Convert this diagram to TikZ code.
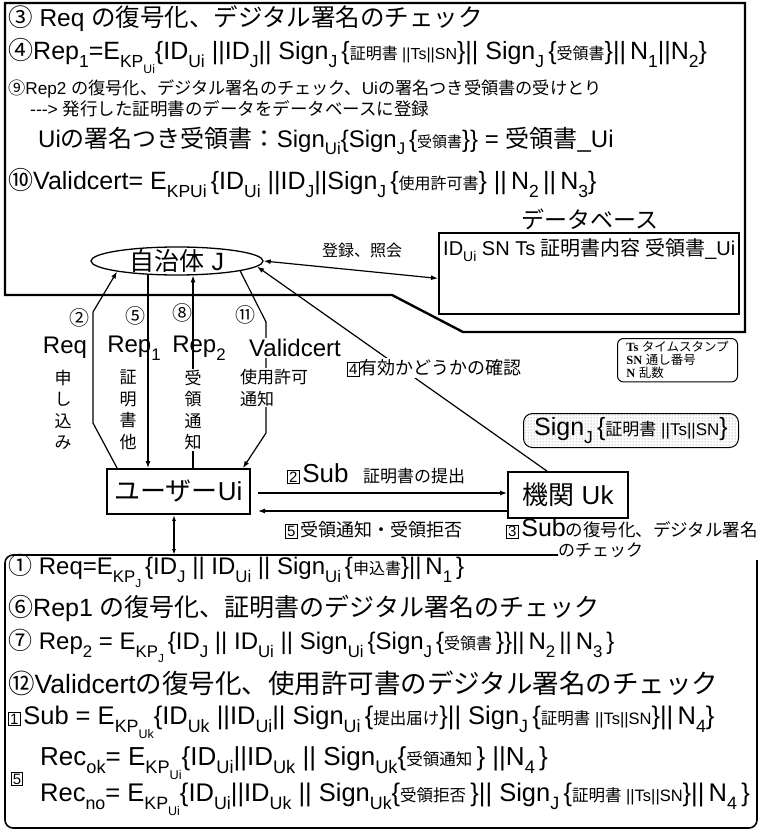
\documentclass[tikz,border=0pt]{standalone}
\usepackage{fontspec}
\usepackage{graphicx}
\setmainfont{Liberation Sans}
\newfontfamily\jpf{Noto Sans CJK JP}
\newfontfamily\serfb{Liberation Serif}
\usetikzlibrary{patterns,arrows.meta,shapes.geometric}
\newcommand\jp[1]{{\jpf #1}}
\newcommand\sbs[1]{\raisebox{-0.32em}{\scalebox{0.7}{#1}}}
\newcommand\fs[1]{\fontsize{#1}{#1}\selectfont}
\newcommand\bx[1]{{\setlength\fboxsep{1pt}\setlength\fboxrule{1pt}\fbox{\fs{15}#1}}}
\begin{document}
\begin{tikzpicture}[x=1pt,y=-1pt,
  txt/.style={anchor=west,inner sep=0pt},
  lbl/.style={inner sep=0pt},
  wbg/.style={fill=white,inner sep=1pt},
  vert/.style={fill=white,inner sep=1pt,align=center,font={\fontsize{17}{21.5}\selectfont\jpf}},
  conn/.style={line width=1.2pt},
  arr/.style={-{Latex[length=7pt,width=5pt]}},
  box/.style={draw,line width=1.8pt,inner sep=0pt}]
\useasboundingbox (0,0) rectangle (761,832);
\fill[white] (0,0) rectangle (761,832);

% ---------- top frame ----------
\draw[line width=2.4pt] (5,3) -- (745,3) -- (745,332) -- (463,332) -- (392,295) -- (5,295) -- cycle;

\node[txt] (t1) at (8,19) {\fs{24.5}\jp{③} Req \jp{の復号化、デジタル署名のチェック}};
\node[txt] (t2) at (8,56) {\fs{25}\jp{④}Rep\sbs{1}=E\sbs{KP\sbs{Ui}}\{ID\sbs{Ui} ||ID\sbs{J}|| Sign\sbs{J}\,\{{\fs{16}\jp{証明書} ||Ts||SN}\}|| Sign\sbs{J}\,\{{\fs{16}\jp{受領書}}\}||\,N\sbs{1}||N\sbs{2}\}};
\node[txt] (t3) at (8,89) {\fs{17.2}\jp{⑨}Rep2 \jp{の復号化、デジタル署名のチェック、}Ui\jp{の署名つき受領書の受けとり}};
\node[txt] (t4) at (30,109) {\fs{17.5}-{}-{}-> \jp{発行した証明書のデータをデータベースに登録}};
\node[txt] (t5) at (38,141) {\fs{24}Ui\jp{の署名つき受領書：}Sign\sbs{Ui}\{Sign\sbs{J}\,\{{\fs{15}\jp{受領書}}\}\} = \jp{受領書}\_Ui};
\node[txt] (t6) at (8,183) {\fs{25}\jp{⑩}Validcert= E\sbs{KPUi}\,\{ID\sbs{Ui} ||ID\sbs{J}||Sign\sbs{J}\,\{{\fs{16}\jp{使用許可書}}\} ||\,N\sbs{2}\,||\,N\sbs{3}\}};

% database
\node[lbl] (dbl) at (590,219) {\fs{23}\jp{データベース}};
\node[box,anchor=north west,minimum width=300pt,minimum height=81pt] (db) at (438,232) {};
\node[txt] (dbt) at (443,250) {\fs{20}ID\sbs{Ui} SN Ts \jp{証明書内容 受領書}\_Ui};

% municipality J
\node[draw,ellipse,line width=1.3pt,inner sep=0pt,minimum width=172pt,minimum height=28pt] (J) at (177,261) {};
\node[lbl] (Jt) at (J) {\fs{25}\jp{自治体} J};

\draw[conn,{Latex[length=7pt,width=5pt]}-{Latex[length=7pt,width=5pt]}] (J.east) -- ([yshift=-5pt]db.west);
\node[lbl] (reg) at (362,250) {\fs{16}\jp{登録、照会}};

% user and organisation
\node[box,minimum width=143pt,minimum height=45pt] (Ui) at (178.5,491.5) {\fs{26}\jp{ユーザー}Ui};
\node[box,minimum width=120pt,minimum height=46pt] (Uk) at (568,495) {\fs{26}\jp{機関}\ Uk};

% connectors J <-> Ui
\coordinate (rq1) at (93,423);
\coordinate (rq2) at (93,312);
\draw[conn,arr] ([xshift=11pt]Ui.north west) -- (rq1) -- (rq2) -- (J.190);
\coordinate (rp1) at ([xshift=-30.5pt]Ui.north);
\draw[conn,arr] (rp1 |- J.204) -- (rp1);
\coordinate (rp2) at ([xshift=14.5pt]Ui.north);
\draw[conn,arr] (rp2) -- (rp2 |- J.319);
\coordinate (vc1) at (266,322);
\coordinate (vc2) at (266,433);
\draw[conn,arr] (J.351) -- (vc1) -- (vc2) -- ([xshift=-8pt]Ui.north east);
% validity check
\draw[conn,arr] ([xshift=-21pt]Uk.north) -- (J.356);

% labels of connectors
\node[lbl] (c2) at (79,318) {\fs{20}\jp{②}};
\node[lbl] (c5) at (135,316) {\fs{20}\jp{⑤}};
\node[lbl] (c8) at (182,313) {\fs{20}\jp{⑧}};
\node[lbl] (c11) at (245,315) {\fs{20}\jp{⑪}};
\node[lbl] (lreq) at (65,348) {\fs{24}Req};
\node[lbl] (lrep1) at (134,348) {\fs{24}Rep\sbs{1}};
\node[lbl] (lrep2) at (199,348) {\fs{24}Rep\sbs{2}};
\node[wbg] (lvc) at (295,348) {\fs{24}Validcert};
\node[vert] (v1) at (63,410) {申\\し\\込\\み};
\node[vert] (v2) at (128,410) {証\\明\\書\\他};
\node[vert] (v3) at (193,410) {受\\領\\通\\知};
\node[vert,align=left,anchor=north west] (v4) at (239,368) {使用許可\\通知};
\node[wbg,anchor=west] (chk) at (346,368) {\bx{4}\fs{18}\jp{有効かどうかの確認}};

% legend boxes
\node[draw,line width=1pt,rounded corners=6pt,anchor=north west,align=left,minimum width=120pt,minimum height=40pt,inner sep=3pt,font={\fontsize{12.5}{13}\selectfont}] (ts) at (617,338)
  {{\serfb\bfseries Ts} \jp{タイムスタンプ}\\{\serfb\bfseries SN} \jp{通し番号}\\{\serfb\bfseries N} \jp{乱数}};
\node[draw,line width=1pt,rounded corners=9pt,pattern=dots,pattern color=black!55,anchor=north west,minimum width=215pt,minimum height=34pt] (sg) at (523,413) {};
\node[lbl] (sgt) at (sg) {\fs{25}Sign\sbs{J}\,\{{\fs{17}\jp{証明書} ||Ts||SN}\}};

% Ui <-> Uk
\coordinate (a1) at (258,493);
\coordinate (a2) at (258,511);
\draw[conn,arr] (a1) -- (a1 -| Uk.west);
\draw[conn,arr] (a2 -| Uk.west) -- (a2);
\node[txt] (sub) at (287,474) {\bx{2} \fs{26}Sub\ \ \fs{17}\jp{証明書の提出}};
\node[txt] (rec) at (285,530) {\bx{5} \fs{18}\jp{受領通知・受領拒否}};
\node[txt] (dec) at (506,529) {\bx{3} \fs{25}Sub\fs{17.5}\jp{の復号化、デジタル署名}};

% bottom frame
\coordinate (bb) at (174,555);
\draw[line width=1.6pt,rounded corners=8pt] (558,555) -- (5,555) -- (5,828) -- (757,828) -- (757,560);
\node[txt] (dec2) at (558,550) {\fs{17}\jp{のチェック}};
\draw[conn,{Latex[length=6pt,width=4pt]}-{Latex[length=6pt,width=4pt]}] ([xshift=-4.5pt]Ui.south) -- (bb);

\node[txt] (b1) at (8,571) {\fs{24}\jp{①} Req=E\sbs{KP\sbs{J}}\,\{ID\sbs{J} || ID\sbs{Ui} || Sign\sbs{Ui}\,\{{\fs{16}\jp{申込書}}\}||\,N\sbs{1}\,\}};
\node[txt] (b2) at (8,608) {\fs{25}\jp{⑥}Rep1 \jp{の復号化、証明書のデジタル署名のチェック}};
\node[txt] (b3) at (8,646) {\fs{24}\jp{⑦} Rep\sbs{2} = E\sbs{KP\sbs{J}}\,\{ID\sbs{J} || ID\sbs{Ui} || Sign\sbs{Ui}\,\{Sign\sbs{J}\,\{{\fs{16}\jp{受領書}}\,\}\}||\,N\sbs{2}\,||\,N\sbs{3}\,\}};
\node[txt] (b4) at (8,683) {\fs{26.5}\jp{⑫}Validcert\jp{の復号化、使用許可書のデジタル署名のチェック}};
\node[txt] (b5) at (8,722) {\bx{1} \fs{25.5}Sub = E\sbs{KP\sbs{Uk}}\{ID\sbs{Uk} ||ID\sbs{Ui}|| Sign\sbs{Ui}\,\{{\fs{16.5}\jp{提出届け}}\}|| Sign\sbs{J}\,\{{\fs{16.5}\jp{証明書} ||Ts||SN}\}||\,N\sbs{4}\}};
\node[lbl] (b6) at (17,779) {\bx{5}};
\node[txt] (b7) at (40,763) {\fs{26}Rec\sbs{ok}= E\sbs{KP\sbs{Ui}}\{ID\sbs{Ui}||ID\sbs{Uk} || Sign\sbs{Uk}\{{\fs{16.5}\jp{受領通知}}\,\} ||N\sbs{4}\,\}};
\node[txt] (b8) at (40,799) {\fs{25.5}Rec\sbs{no}= E\sbs{KP\sbs{Ui}}\{ID\sbs{Ui}||ID\sbs{Uk} || Sign\sbs{Uk}\{{\fs{16.5}\jp{受領拒否}}\,\}|| Sign\sbs{J}\,\{{\fs{16.5}\jp{証明書} ||Ts||SN}\}||\,N\sbs{4}\,\}};
\end{tikzpicture}
\end{document}
